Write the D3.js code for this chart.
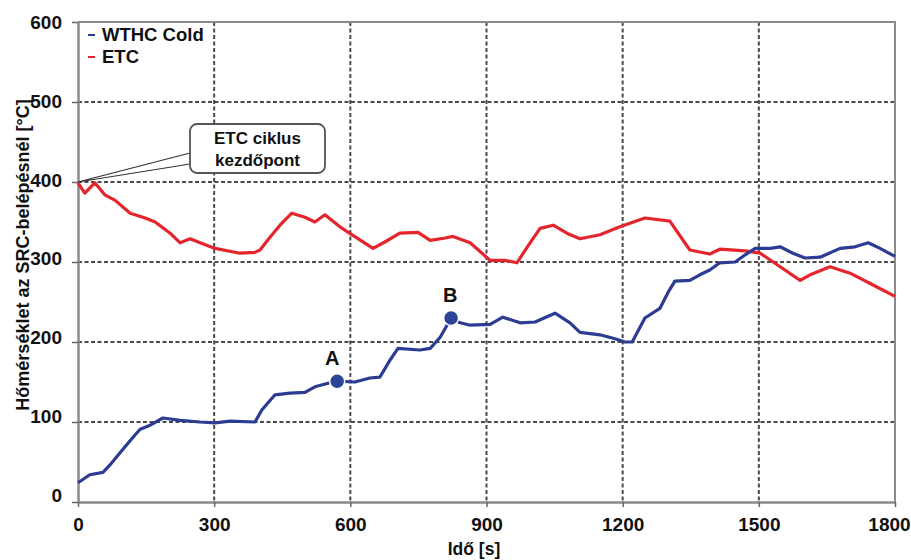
<!DOCTYPE html>
<html>
<head>
<meta charset="utf-8">
<script src="https://cdn.jsdelivr.net/npm/d3@7"></script>
<style>
  body { margin: 0; background: #fff; }
  svg { font-family: "Liberation Sans", Arial, sans-serif; font-weight: bold; }
</style>
</head>
<body>
<svg id="chart"></svg>
<script>
//
// Data
//

const xTicks = [0, 300, 600, 900, 1200, 1500, 1800];
const yTicks = [0, 100, 200, 300, 400, 500, 600];

const seriesNames = ['WTHC Cold', 'ETC'];

// [time s, temperature °C]
const wthcCold = [
  [0, 24], [26, 34], [55, 37], [70, 46], [93, 62], [126, 84], [137, 91], [159, 96],
  [187, 105], [225, 102], [269, 100], [302, 99], [335, 101], [390, 100], [405, 115],
  [434, 134], [467, 136], [500, 137], [522, 144], [555, 149], [571, 151], [610, 150],
  [643, 155], [665, 156], [687, 177], [705, 192], [753, 190], [776, 192], [798, 206],
  [822, 230], [842, 224], [864, 221], [908, 222], [936, 231], [974, 224], [1007, 225],
  [1051, 236], [1084, 224], [1106, 212], [1150, 209], [1183, 204], [1205, 200],
  [1221, 200], [1249, 230], [1282, 242], [1300, 262], [1315, 276], [1348, 277],
  [1370, 284], [1392, 290], [1414, 299], [1448, 300], [1470, 309], [1492, 317],
  [1525, 317], [1547, 319], [1575, 311], [1602, 305], [1635, 306], [1679, 317],
  [1712, 319], [1741, 324], [1767, 317], [1800, 307]
];

const etc = [
  [0, 399], [15, 386], [37, 399], [59, 384], [82, 377], [115, 361], [148, 355],
  [170, 350], [203, 336], [225, 324], [247, 329], [269, 324], [302, 317], [357, 311],
  [390, 312], [401, 315], [423, 331], [445, 346], [471, 361], [500, 356], [522, 350],
  [544, 359], [577, 344], [604, 334], [650, 317], [676, 325], [709, 336], [749, 337],
  [776, 327], [809, 330], [826, 332], [864, 324], [908, 302], [941, 302], [967, 299],
  [996, 324], [1018, 342], [1047, 346], [1077, 336], [1106, 329], [1150, 334],
  [1194, 344], [1249, 355], [1304, 351], [1348, 315], [1392, 310], [1414, 316],
  [1470, 314], [1503, 311], [1547, 294], [1591, 277], [1613, 284], [1657, 294],
  [1701, 286], [1756, 270], [1800, 257]
];

// marked points on WTHC Cold curve
const markers = [
  { label: 'A', t: 571, v: 151 },
  { label: 'B', t: 822, v: 230 }
];

const calloutLines = ['ETC ciklus', 'kezdőpont'];
const calloutAnchor = [0, 400];

const xLabel = 'Idő [s]';
const yLabel = 'Hőmérséklet az SRC-belépésnél [°C]';

//
// Set-up
//

const totalWidth = 911;
const totalHeight = 560;
const margin = { left: 78, top: 22, right: 16, bottom: 58 };
const width = totalWidth - margin.left - margin.right;
const height = totalHeight - margin.top - margin.bottom;

const blue = '#2c3c92';
const red = '#e3262e';
const gridColor = '#4a4a4a';
const frameColor = '#8a8a8a';

const svg = d3.select('#chart')
  .attr('width', totalWidth)
  .attr('height', totalHeight);

const wrapper = svg.append('g')
  .attr('transform', `translate(${margin.left},${margin.top})`);

const xScale = d3.scaleLinear().domain([0, 1800]).range([0, width]);
const yScale = d3.scaleLinear().domain([0, 600]).range([height, 0]);

const color = d3.scaleOrdinal().domain(seriesNames).range([blue, red]);

//
// Grid
//

wrapper.append('g')
  .selectAll('line')
  .data(xTicks.slice(1, -1))
  .enter().append('line')
    .attr('x1', d => xScale(d)).attr('x2', d => xScale(d))
    .attr('y1', 0).attr('y2', height)
    .style('stroke', gridColor)
    .style('stroke-width', 2)
    .style('stroke-dasharray', '4,2.5');

wrapper.append('g')
  .selectAll('line')
  .data(yTicks.slice(1, -1))
  .enter().append('line')
    .attr('x1', 0).attr('x2', width)
    .attr('y1', d => yScale(d)).attr('y2', d => yScale(d))
    .style('stroke', gridColor)
    .style('stroke-width', 2)
    .style('stroke-dasharray', '4,2.5');

// top / right frame
wrapper.append('path')
  .attr('d', `M0,${yScale(600)}H${xScale(1800)}V${height}`)
  .style('fill', 'none')
  .style('stroke', frameColor)
  .style('stroke-width', 2);

//
// Axes
//

const xAxis = d3.axisBottom(xScale)
  .tickValues(xTicks)
  .tickFormat(d3.format('d'))
  .tickSize(5)
  .tickSizeOuter(0)
  .tickPadding(11);

const gx = wrapper.append('g')
  .attr('transform', `translate(0,${height})`)
  .call(xAxis);

const yAxis = d3.axisLeft(yScale)
  .tickValues(yTicks)
  .tickFormat(d3.format('d'))
  .tickSize(6)
  .tickSizeOuter(0)
  .tickPadding(10);

const gy = wrapper.append('g').call(yAxis);

[gx, gy].forEach(g => {
  g.select('.domain').style('stroke', frameColor).style('stroke-width', 2.5);
  g.selectAll('.tick line').style('stroke', '#666').style('stroke-width', 1.5);
  g.selectAll('text')
    .style('font-size', '19px')
    .style('font-weight', 'bold')
    .style('font-family', '"Liberation Sans", Arial, sans-serif')
    .style('fill', '#111');
});
gy.selectAll('.tick text').attr('dy', d => `${0.32 - (600 - d) / 600 * 0.33}em`);
// keep the last x label inside the picture
gx.selectAll('.tick text').filter(d => d === 1800).attr('x', -6);

//
// Lines
//

const line = d3.line()
  .x(d => xScale(d[0]))
  .y(d => yScale(d[1]));

wrapper.append('path')
  .datum(etc)
  .attr('d', line)
  .style('fill', 'none')
  .style('stroke', color('ETC'))
  .style('stroke-width', 3.2)
  .style('stroke-linejoin', 'round');

wrapper.append('path')
  .datum(wthcCold)
  .attr('d', line)
  .style('fill', 'none')
  .style('stroke', color('WTHC Cold'))
  .style('stroke-width', 3.2)
  .style('stroke-linejoin', 'round');

//
// Markers A, B
//

const mk = wrapper.append('g').selectAll('g')
  .data(markers)
  .enter().append('g')
  .attr('transform', d => `translate(${xScale(d.t)},${yScale(d.v)})`);

mk.append('circle')
  .attr('r', 7.5)
  .style('fill', '#2a4596')
  .style('stroke', '#fff')
  .style('stroke-width', 1.5);

mk.append('text')
  .attr('x', (d, i) => i === 0 ? -5 : -1)
  .attr('y', -16)
  .attr('text-anchor', 'middle')
  .style('font-size', '20px')
  .style('fill', '#111')
  .text(d => d.label);

//
// Callout
//

const ax = xScale(calloutAnchor[0]);
const ay = yScale(calloutAnchor[1]);
const box = { x: 112, y: 102, w: 135, h: 49, r: 7 };

const callout = wrapper.append('g');

callout.append('path')
  .attr('d', `M${box.x},${box.y + 29}L${ax},${ay}L${box.x},${box.y + 40}`)
  .style('fill', '#fff')
  .style('stroke', '#333')
  .style('stroke-width', 1.2);

callout.append('rect')
  .attr('x', box.x).attr('y', box.y)
  .attr('width', box.w).attr('height', box.h)
  .attr('rx', box.r)
  .style('fill', '#fff')
  .style('stroke', '#555')
  .style('stroke-width', 1.8);

callout.append('text')
  .attr('x', box.x + box.w / 2)
  .attr('text-anchor', 'middle')
  .style('font-size', '17px')
  .style('fill', '#111')
  .selectAll('tspan')
  .data(calloutLines)
  .enter().append('tspan')
    .attr('x', box.x + box.w / 2)
    .attr('y', (d, i) => box.y + 20 + i * 22)
    .text(d => d);

//
// Legend
//

const legend = wrapper.append('g')
  .attr('transform', 'translate(10,13)')
  .selectAll('g')
  .data(seriesNames)
  .enter().append('g')
  .attr('transform', (d, i) => `translate(0,${i * 22})`);

legend.append('line')
  .attr('x1', 0).attr('x2', 7)
  .style('stroke', d => color(d))
  .style('stroke-width', 2);

legend.append('text')
  .attr('x', 14)
  .attr('dy', '0.35em')
  .style('font-size', '18.5px')
  .style('fill', '#111')
  .text(d => d);

//
// Axis titles
//

svg.append('text')
  .attr('x', 474)
  .attr('y', 555)
  .attr('text-anchor', 'middle')
  .style('font-size', '17.5px')
  .style('fill', '#111')
  .text(xLabel);

svg.append('text')
  .attr('transform', 'translate(29,255) rotate(-90)')
  .attr('text-anchor', 'middle')
  .style('font-size', '18px')
  .style('fill', '#111')
  .text(yLabel);
</script>
</body>
</html>
